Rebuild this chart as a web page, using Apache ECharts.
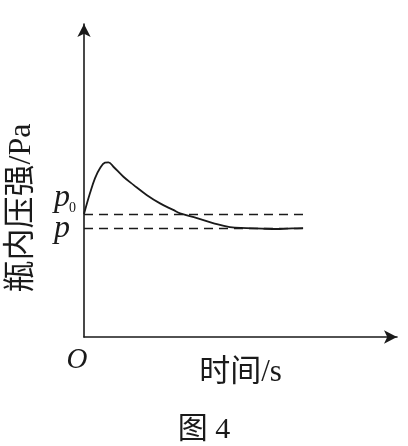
<!DOCTYPE html>
<html>
<head>
<meta charset="utf-8">
<script src="https://cdn.jsdelivr.net/npm/echarts@6/dist/echarts.min.js"></script>
<style>html,body{margin:0;padding:0;background:#fff;}#c{width:408px;height:446px;}</style>
</head>
<body>
<div id="c"></div>
<script>
// time (arbitrary units) and pressure (arbitrary units)
const timeValues = [0, 1.9, 3.5, 5.1, 6.7, 7.8, 9.4, 12.6, 15.8, 20.0, 24.3, 28.5, 30.7, 36.1, 41.2, 46.6, 51.9, 57.0, 62.6, 66.5, 70.0];
const pressureValues = [39.3, 45.9, 50.7, 53.9, 55.7, 55.8, 54.4, 51.2, 48.6, 45.4, 42.7, 40.6, 39.5, 38.0, 36.4, 35.1, 34.8, 34.6, 34.5, 34.7, 34.8];
const p0Level = 39.3;
const pLevel = 34.8;
const dashEnd = 71.2;
const xName = '时间/s';
const yName = '瓶内压强/Pa';
const captionText = '图 4';
const originText = 'O';

const serif = 'Liberation Serif, Noto Sans CJK SC, serif';
const ink = '#1a1a1a';
const chart = echarts.init(document.getElementById('c'), null, {renderer: 'canvas'});
const axisLine = {show: true, symbol: ['none', 'arrow'], symbolSize: [10, 13], lineStyle: {color: ink, width: 1.6}};
chart.setOption({
  animation: false,
  backgroundColor: '#fff',
  title: {text: captionText, left: 'center', top: 410, textStyle: {fontFamily: serif, fontSize: 30, fontWeight: 'normal', color: ink}},
  grid: {left: 84, right: 11, top: 24, bottom: 109},
  xAxis: {type: 'value', min: 0, max: 100, axisLine: axisLine, axisTick: {show: false}, axisLabel: {show: false}, splitLine: {show: false},
    name: xName, nameLocation: 'middle', nameGap: 20, nameTextStyle: {fontFamily: serif, fontSize: 31, color: ink}},
  yAxis: {type: 'value', min: 0, max: 100, axisLine: axisLine, axisTick: {show: false}, axisLabel: {show: false}, splitLine: {show: false}},
  series: [{
    type: 'line',
    data: timeValues.map((t, i) => [t, pressureValues[i]]),
    smooth: 0.4,
    showSymbol: false,
    lineStyle: {color: ink, width: 1.8},
    markLine: {
      silent: true,
      symbol: ['none', 'none'],
      label: {show: false},
      lineStyle: {color: ink, type: [9, 6], width: 1.4},
      data: [
        [{coord: [0, p0Level]}, {coord: [dashEnd, p0Level]}],
        [{coord: [0, pLevel]}, {coord: [dashEnd, pLevel]}]
      ]
    }
  }]
});
// level labels placed from the data levels through the axis scale
const p0Px = chart.convertToPixel({gridIndex: 0}, [0, p0Level]);
const pPx = chart.convertToPixel({gridIndex: 0}, [0, pLevel]);
chart.setOption({
  graphic: [
    {type: 'text', x: 22, y: 208, rotation: Math.PI / 2, style: {text: yName, font: '32px ' + serif, fill: ink, textAlign: 'center', textVerticalAlign: 'middle'}},
    {type: 'text', x: 77, y: 360, style: {text: originText, font: 'italic 29px ' + serif, fill: ink, textAlign: 'center', textVerticalAlign: 'middle'}},
    {type: 'text', x: p0Px[0] - 14, y: p0Px[1], style: {text: 'p', font: 'italic 32px ' + serif, fill: ink, textAlign: 'right', textVerticalAlign: 'bottom'}},
    {type: 'text', x: p0Px[0] - 8, y: p0Px[1] + 1, style: {text: '0', font: '14px ' + serif, fill: ink, textAlign: 'right', textVerticalAlign: 'bottom'}},
    {type: 'text', x: pPx[0] - 14, y: pPx[1] + 17, style: {text: 'p', font: 'italic 32px ' + serif, fill: ink, textAlign: 'right', textVerticalAlign: 'bottom'}}
  ]
});
</script>
</body>
</html>
